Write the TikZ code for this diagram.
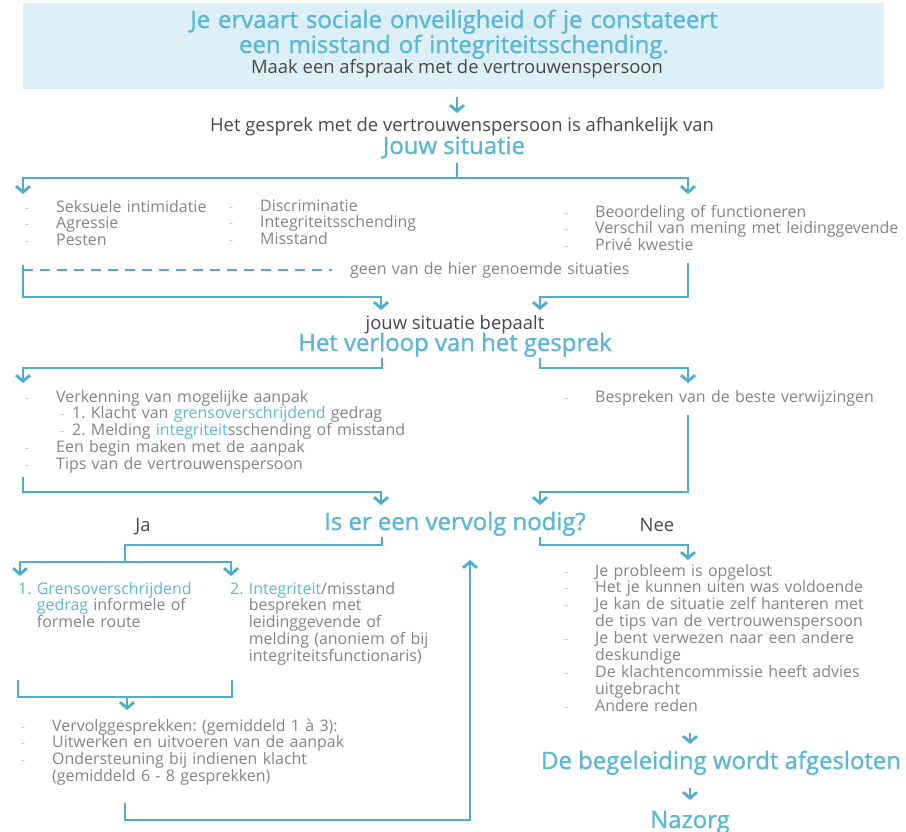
\documentclass[tikz,border=0pt]{standalone}
\usepackage{fontspec}
\setmainfont{Open Sans}
\newfontfamily\tfont{Open Sans}[FakeBold=1.2]
\usetikzlibrary{arrows.meta}
\frenchspacing
\definecolor{lnblue}{RGB}{79,174,205}
\definecolor{txblue}{RGB}{92,182,214}
\definecolor{boxblue}{RGB}{221,239,247}
\definecolor{darktx}{RGB}{72,72,72}
\definecolor{lgray}{RGB}{132,132,132}
\definecolor{bgray}{RGB}{200,200,200}
\newcommand\bmark{\textcolor{bgray}{\fontsize{13}{13}\selectfont -}}
\newcommand\blt{\leavevmode\llap{\bmark\hspace{27bp}}}
\newcommand\sblt{\hspace*{16bp}\llap{\bmark\hspace{8bp}}}
\newcommand\bt[1]{\textcolor{txblue}{#1}}
\begin{document}
\frenchspacing
\begin{tikzpicture}[x=1bp,y=-1bp,
  ln/.style={draw=lnblue, line width=2.8bp},
  arr/.style={ln, -{Straight Barb[length=6bp,width=14bp]}},
  ttl/.style={anchor=base, inner sep=0pt, font=\tfont\fontsize{24}{22}\selectfont, text=txblue},
  mid/.style={anchor=base, inner sep=0pt, font=\fontsize{18.5}{20}\selectfont, text=darktx},
  lst/.style={anchor=base west, inner sep=0pt, text width=480bp, align=left, font=\fontsize{16}{17}\selectfont\frenchspacing, text=lgray}]
\useasboundingbox (0,0) rectangle (906,832);

% top box
\node[fill=boxblue, minimum width=861bp, minimum height=86bp, inner sep=0pt, anchor=north west] (topbox) at (23,3) {};
\node[ttl, text width=820bp, align=center] (title) at (454,28) {Je ervaart sociale onveiligheid of je constateert\\een misstand of integriteitsschending.};
\node[mid] (sub) at (457,73) {Maak een afspraak met de vertrouwenspersoon};

\node[mid] (q1) at (462,131) {Het gesprek met de vertrouwenspersoon is afhankelijk van};
\node[ttl] (h1) at (454,154) {Jouw situatie};

% situations
\node[lst] (s1) at (56,212) {\blt Seksuele intimidatie\\\blt Agressie\\\blt Pesten};
\node[lst] (s2) at (260,211) {\blt Discriminatie\\\blt Integriteitsschending\\\blt Misstand};
\node[lst] (s3) at (595,217) {\blt Beoordeling of functioneren\\\blt Verschil van mening met leidinggevende\\\blt Privé kwestie};
\node[lst] (geen) at (350,274) {geen van de hier genoemde situaties};

\node[mid] (q2) at (455,329) {jouw situatie bepaalt};
\node[ttl] (h2) at (455,351) {Het verloop van het gesprek};

\node[lst] (v1) at (56,402) {\blt Verkenning van mogelijke aanpak\\
\sblt 1. Klacht van \bt{grensoverschrijdend} gedrag\\
\sblt 2. Melding \bt{integriteit}sschending of misstand\\
\blt Een begin maken met de aanpak\\
\blt Tips van de vertrouwenspersoon};
\node[lst] (v2) at (595,402) {\blt Bespreken van de beste verwijzingen};

\node[ttl] (h3) at (455,530) {Is er een vervolg nodig?};
\node[mid] (ja) at (143,531) {Ja};
\node[mid] (nee) at (657,531) {Nee};

\node[lst] (j1) at (18,594) {\bt{1. Grensoverschrijdend}\\\phantom{1.\ }\bt{gedrag} informele of\\\phantom{1.\ }formele route};
\node[lst] (j2) at (230,594) {\bt{2. Integriteit}/misstand\\\phantom{2.\ }bespreken met\\\phantom{2.\ }leidinggevende of\\\phantom{2.\ }melding (anoniem of bij\\\phantom{2.\ }integriteitsfunctionaris)};

\node[lst] (n1) at (595,576) {\blt Je probleem is opgelost\\
\blt Het je kunnen uiten was voldoende\\
\blt Je kan de situatie zelf hanteren met\\
de tips van de vertrouwenspersoon\\
\blt Je bent verwezen naar een andere\\
deskundige\\
\blt De klachtencommissie heeft advies\\
uitgebracht\\
\blt Andere reden};

\node[lst] (f1) at (52,731) {\blt Vervolggesprekken: (gemiddeld 1 à 3):\\
\blt Uitwerken en uitvoeren van de aanpak\\
\blt Ondersteuning bij indienen klacht\\
(gemiddeld 6 - 8 gesprekken)};

\node[ttl] (h4) at (721,769) {De begeleiding wordt afgesloten};
\node[ttl] (h5) at (690,828) {Nazorg};

% coordinates
\coordinate (a1s) at (457,97);   \coordinate (a1e) at (457,113);
\coordinate (b0) at (457,163);   \coordinate (b1) at (457,178);
\coordinate (bL) at (23,194);    \coordinate (bR) at (688,194);
\coordinate (dL) at (23,265);    \coordinate (dLb) at (23,297);
\coordinate (dR) at (688,263);   \coordinate (dRb) at (688,297);
\coordinate (dash0) at (23,270); \coordinate (dash1) at (332,270);
\coordinate (eL) at (381,310);   \coordinate (eR) at (540,310);
\coordinate (fL0) at (382,358);  \coordinate (fL1) at (382,368);
\coordinate (fR0) at (540,358);  \coordinate (fR1) at (540,368);
\coordinate (gL) at (23,383);    \coordinate (gR) at (688,383);
\coordinate (hL0) at (23,477);   \coordinate (hL1) at (23,492);
\coordinate (hR0) at (688,415);  \coordinate (hR1) at (688,492);
\coordinate (iL) at (381,505);   \coordinate (iR) at (540,505);
\coordinate (kL0) at (382,537);  \coordinate (kL1) at (382,545);
\coordinate (kJ) at (125,562);
\coordinate (kA) at (20,576);    \coordinate (kB) at (231,576);
\coordinate (kR0) at (540,537);  \coordinate (kR1) at (540,545);
\coordinate (kN) at (688,560);
\coordinate (m0) at (18,680);    \coordinate (m1) at (18,697);
\coordinate (m2) at (232,697);   \coordinate (m3) at (232,680);
\coordinate (mA) at (127,697);   \coordinate (mB) at (127,710);
\coordinate (p0) at (125,803);   \coordinate (p1) at (125,820);
\coordinate (pT) at (470,560);
\coordinate (r0) at (690,733);   \coordinate (r1) at (690,744);
\coordinate (r2) at (690,788);   \coordinate (r3) at (690,800);

% connectors
\draw[arr] (a1s) -- (a1e);
\draw[ln] (b0) -- (b1);
\draw[arr] (b1) -| (bL);
\draw[arr] (b1) -| (bR);
\draw[ln, dash pattern=on 10bp off 7bp] (dash0) -- (dash1);
\draw[arr] (dL) -- (dLb) -| (eL);
\draw[arr] (dR) -- (dRb) -| (eR);
\draw[arr] (fL0) -- (fL1) -| (gL);
\draw[arr] (fR0) -- (fR1) -| (gR);
\draw[arr] (hL0) -- (hL1) -| (iL);
\draw[arr] (hR0) -- (hR1) -| (iR);
\draw[ln] (kL0) -- (kL1) -| (kJ);
\draw[arr] (kJ) -| (kA);
\draw[arr] (kJ) -| (kB);
\draw[arr] (kR0) -- (kR1) -| (kN);
\draw[ln] (m0) -- (m1) -- (m2) -- (m3);
\draw[arr] (mA) -- (mB);
\draw[arr] (p0) -- (p1) -| (pT);
\draw[arr] (r0) -- (r1);
\draw[arr] (r2) -- (r3);
\end{tikzpicture}
\end{document}
